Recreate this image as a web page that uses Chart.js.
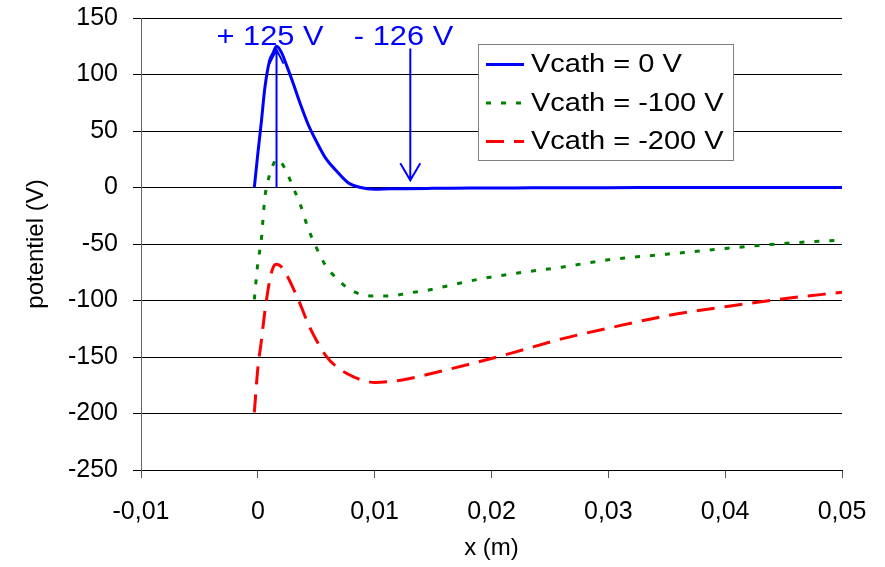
<!DOCTYPE html>
<html>
<head>
<meta charset="utf-8">
<title>potentiel</title>
<script src="https://cdn.jsdelivr.net/npm/chart.js@4/dist/chart.umd.min.js"></script>
<style>
  html, body { margin: 0; padding: 0; background: #ffffff; }
  #c { display: block; }
</style>
</head>
<body>
<canvas id="c" width="885" height="567"></canvas>
<script>
// Position along the gap (m)
const xValues = [-0.0003, 0, 0.0003, 0.0006, 0.001, 0.0013, 0.0016, 0.002, 0.0025, 0.003,
  0.0036, 0.0043, 0.005, 0.0058, 0.0067, 0.0077, 0.0088, 0.01, 0.0113, 0.0128,
  0.0145, 0.0165, 0.019, 0.022, 0.026, 0.03, 0.035, 0.04, 0.045, 0.05];

// Potential (V) for each cathode bias
const vCath0 = [0, 30, 58, 88, 112, 119, 125, 120, 107, 93,
  75, 56, 41, 26, 15, 4.5, 0, -1.5, -1.2, -1,
  -0.8, -0.6, -0.5, -0.4, -0.2, -0.2, 0, 0, 0, 0];
const vCath100 = [-99, -67, -46, -9, 11, 20, 25, 22, 13, 0.5,
  -14, -36, -53, -69, -80, -89, -94.5, -96, -96, -93.5,
  -91, -86.5, -81, -76, -70.5, -64, -59, -54, -49.5, -46.5];
const vCath200 = [-199, -160, -136, -110, -83, -71, -68, -70, -78, -88.6,
  -102.5, -120.5, -135, -148.5, -158.5, -165, -170, -172.5, -171.7, -169.5,
  -165.5, -160.5, -154, -145.7, -134, -124.5, -113.5, -105.5, -98.5, -92.7];

const seriesLabels = ['Vcath = 0 V', 'Vcath = -100 V', 'Vcath = -200 V'];

const xTickValues = [-0.01, 0, 0.01, 0.02, 0.03, 0.04, 0.05];
const xTickLabels = ['-0,01', '0', '0,01', '0,02', '0,03', '0,04', '0,05'];
const yTickValues = [-250, -200, -150, -100, -50, 0, 50, 100, 150];
const yTickLabels = ['-250', '-200', '-150', '-100', '-50', '0', '50', '100', '150'];

// Peak / drop annotations (data units)
const peakLabel = '+ 125 V';
const dropLabel = '- 126 V';
const notes = {
  peakText: { x: 0.00104, y: 126.5 },
  dropText: { x: 0.01247, y: 126.5 },
  peakArrow: { x: 0.0016, from: 0, to: 122 },
  dropArrow: { x: 0.01305, from: 123, to: 6.5 }
};

const FONT = "'Liberation Sans', Arial, sans-serif";

function pts(ys) {
  return xValues.map((x, i) => ({ x: x, y: ys[i] }));
}

const lineStyles = [
  { color: '#0000ff', dash: [] },
  { color: '#008000', dash: [5, 10] },
  { color: '#ff0000', dash: [18, 10] }
];

const datasets = [vCath0, vCath100, vCath200].map((ys, i) => ({
  label: seriesLabels[i],
  data: pts(ys),
  showLine: true,
  borderColor: lineStyles[i].color,
  backgroundColor: lineStyles[i].color,
  borderWidth: 3,
  borderDash: lineStyles[i].dash,
  borderCapStyle: 'butt',
  pointRadius: 0,
  pointHoverRadius: 0,
  cubicInterpolationMode: 'monotone',
  fill: false
}));

// text drawn with a slight horizontal stretch
function wideText(ctx, text, x, y, sx, align) {
  ctx.save();
  ctx.translate(x, y);
  ctx.scale(sx, 1);
  ctx.textAlign = align;
  ctx.fillText(text, 0, 0);
  ctx.restore();
}

// Boxed legend inside the plot, upper right
const boxLegend = {
  id: 'boxLegend',
  afterDraw(chart) {
    const ctx = chart.ctx;
    const box = { l: 478.5, t: 44.5, r: 733.5, b: 160.5 };
    ctx.save();
    ctx.fillStyle = '#ffffff';
    ctx.fillRect(box.l, box.t, box.r - box.l, box.b - box.t);
    ctx.strokeStyle = '#808080';
    ctx.lineWidth = 1;
    ctx.strokeRect(box.l, box.t, box.r - box.l, box.b - box.t);
    const rows = [64.5, 103, 141.5];
    ctx.font = '25px ' + FONT;
    ctx.textBaseline = 'middle';
    chart.data.datasets.forEach((ds, i) => {
      ctx.beginPath();
      ctx.setLineDash(ds.borderDash || []);
      ctx.lineWidth = 3;
      ctx.lineCap = 'butt';
      ctx.strokeStyle = ds.borderColor;
      ctx.moveTo(486, rows[i]);
      ctx.lineTo(524, rows[i]);
      ctx.stroke();
      ctx.setLineDash([]);
      ctx.fillStyle = '#000000';
      wideText(ctx, ds.label, 531, rows[i] + 1, 1.16, 'left');
    });
    ctx.restore();
  }
};

// Peak and drop labels with their arrows
const peakNotes = {
  id: 'peakNotes',
  afterDatasetsDraw(chart) {
    const ctx = chart.ctx;
    const xs = chart.scales.x, ys = chart.scales.y;
    ctx.save();
    ctx.fillStyle = '#0000ff';
    ctx.strokeStyle = '#0000ff';
    ctx.font = '28px ' + FONT;
    ctx.textBaseline = 'alphabetic';
    wideText(ctx, peakLabel, xs.getPixelForValue(notes.peakText.x), ys.getPixelForValue(notes.peakText.y), 1.1, 'center');
    wideText(ctx, dropLabel, xs.getPixelForValue(notes.dropText.x), ys.getPixelForValue(notes.dropText.y), 1.1, 'center');

    ctx.lineWidth = 2;
    ctx.lineCap = 'butt';
    // upward arrow at the peak
    let ax = xs.getPixelForValue(notes.peakArrow.x);
    let y0 = ys.getPixelForValue(notes.peakArrow.from);
    let y1 = ys.getPixelForValue(notes.peakArrow.to);
    ctx.beginPath();
    ctx.moveTo(ax, y0); ctx.lineTo(ax, y1);
    ctx.moveTo(ax - 7, y1 + 14); ctx.lineTo(ax, y1); ctx.lineTo(ax + 7, y1 + 14);
    ctx.stroke();
    // downward arrow towards the plateau
    ax = xs.getPixelForValue(notes.dropArrow.x);
    y0 = ys.getPixelForValue(notes.dropArrow.from);
    y1 = ys.getPixelForValue(notes.dropArrow.to);
    ctx.beginPath();
    ctx.moveTo(ax, y0); ctx.lineTo(ax, y1);
    ctx.moveTo(ax - 10, y1 - 17); ctx.lineTo(ax, y1); ctx.lineTo(ax + 10, y1 - 17);
    ctx.stroke();
    ctx.restore();
  }
};

new Chart(document.getElementById('c'), {
  type: 'scatter',
  data: { datasets: datasets },
  options: {
    responsive: false,
    devicePixelRatio: 1,
    animation: false,
    events: [],
    layout: { padding: { left: 0, right: 43, top: 18, bottom: 0 } },
    plugins: {
      legend: { display: false },
      tooltip: { enabled: false }
    },
    scales: {
      x: {
        type: 'linear',
        min: -0.01,
        max: 0.05,
        afterBuildTicks(scale) { scale.ticks = xTickValues.map(v => ({ value: v })); },
        afterFit(scale) { scale.height = 97; scale.paddingLeft = 0; scale.paddingRight = 0; },
        ticks: {
          autoSkip: false,
          maxRotation: 0,
          padding: 19,
          color: '#000000',
          font: { family: FONT, size: 25 },
          callback: (v, i) => xTickLabels[i]
        },
        grid: {
          drawOnChartArea: false,
          drawTicks: true,
          tickLength: 8,
          tickColor: '#555555'
        },
        border: { display: true, color: '#000000', width: 1 },
        title: {
          display: true,
          text: 'x (m)',
          color: '#000000',
          font: { family: FONT, size: 24 },
          padding: { top: 0, bottom: 4 }
        }
      },
      y: {
        type: 'linear',
        min: -250,
        max: 150,
        afterBuildTicks(scale) { scale.ticks = yTickValues.map(v => ({ value: v })); },
        afterFit(scale) { scale.width = 141; scale.paddingTop = 0; scale.paddingBottom = 0; },
        ticks: {
          autoSkip: false,
          padding: 15,
          color: '#000000',
          font: { family: FONT, size: 25 },
          callback: (v, i) => yTickLabels[i]
        },
        grid: {
          color: '#000000',
          lineWidth: 1,
          drawTicks: true,
          tickLength: 8,
          tickColor: '#000000'
        },
        border: { display: true, color: '#666666', width: 1 },
        title: {
          display: true,
          text: 'potentiel (V)',
          color: '#000000',
          font: { family: FONT, size: 24 },
          padding: { top: 22, bottom: 0 }
        }
      }
    }
  },
  plugins: [peakNotes, boxLegend]
});
</script>
</body>
</html>
